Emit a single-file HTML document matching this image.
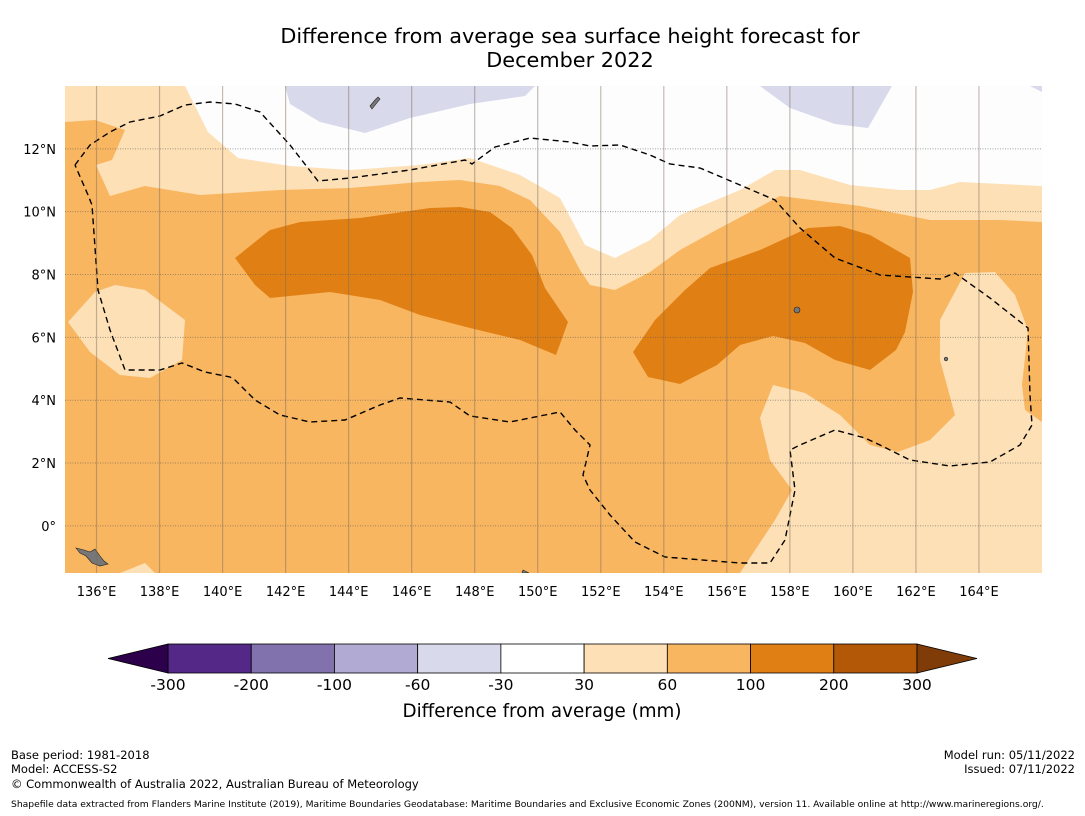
<!DOCTYPE html>
<html><head><meta charset="utf-8">
<style>
body{margin:0;background:#fff;font-family:"DejaVu Sans","Liberation Sans",sans-serif;}
#wrap{position:relative;width:1085px;height:816px;overflow:hidden;background:#fff}
.t{position:absolute;white-space:nowrap;color:#000}
</style></head><body>
<div id="wrap">
<div class="t" style="left:0;width:1140px;top:24px;text-align:center;font-size:20.8px;line-height:24px">Difference from average sea surface height forecast for<br>December 2022</div>
<svg id="svg" width="1085" height="816" style="position:absolute;left:0;top:0">
<defs><clipPath id="clip"><rect x="65" y="86" width="977" height="487"/></clipPath></defs>
<g clip-path="url(#clip)">
<rect x="65" y="86" width="977" height="487" fill="#fdfdfe"/>
<path fill="#d8d9ea" d="M285,86 L535,86 L525,96 L470,104 L410,118 L365,133 L320,122 L290,104 Z"/>
<path fill="#d8d9ea" d="M760,86 L892,86 L868,128 L835,124 L790,108 Z"/>
<path fill="#d8d9ea" d="M1030,86 L1042,86 L1042,92 Z"/>
<path fill="#fde0b6" d="M65,86 L185,86 L208,132 L238,158 L290,166 L350,170 L420,165 L470,158 L520,175 L560,198 L585,245 L615,258 L650,240 L680,215 L740,190 L775,170 L800,170 L850,185 L900,190 L930,190 L960,182 L1042,186 L1042,573 L65,573 Z"/>
<path fill="#f9b661" d="M65,122 L95,120 L125,130 L112,160 L96,165 L110,196 L145,186 L200,195 L280,190 L350,188 L420,182 L460,180 L500,186 L530,200 L560,232 L580,270 L590,285 L615,290 L650,272 L680,250 L720,228 L780,196 L860,206 L930,220 L1000,220 L1042,222 L1042,573 L65,573 Z"/>
<path fill="#fde0b6" d="M68,322 L95,292 L115,285 L145,290 L185,320 L182,360 L150,378 L120,375 L90,352 Z"/>
<path fill="#fde0b6" d="M1042,422 L1025,410 L1022,385 L1028,330 L1015,295 L995,272 L965,273 L940,320 L940,360 L955,415 L930,440 L898,452 L870,445 L840,415 L805,393 L773,385 L760,418 L770,460 L792,490 L775,520 L740,573 L1042,573 Z"/>
<path fill="#fde0b6" d="M120,573 L145,563 L155,573 Z"/>
<path fill="#e08014" d="M235,258 L270,230 L300,222 L360,218 L430,208 L460,207 L490,212 L512,228 L532,255 L545,288 L568,322 L556,355 L520,340 L470,328 L420,315 L380,300 L330,292 L270,298 L255,285 Z"/>
<path fill="#e08014" d="M633,352 L655,320 L685,290 L710,268 L760,250 L808,228 L840,226 L870,235 L910,258 L913,292 L905,332 L896,350 L870,370 L835,360 L805,343 L773,336 L740,345 L717,365 L680,384 L648,377 Z"/>
<path fill="none" stroke="#000" stroke-width="1.4" stroke-dasharray="6,4" d="M75,165 L90,145 L110,132 L130,122 L160,116 L185,105 L210,102 L235,104 L260,112 L290,145 L318,181 L350,178 L410,170 L465,160 L472,164 L495,147 L530,138 L570,142 L590,146 L620,145 L650,155 L670,164 L700,168 L740,185 L775,200 L800,228 L835,258 L880,275 L940,279 L955,273 L990,298 L1028,328 L1030,395 L1032,425 L1020,445 L990,462 L950,466 L910,460 L880,445 L865,438 L835,430 L800,445 L790,450 L795,490 L785,540 L770,563 L740,563 L665,557 L635,542 L610,515 L590,490 L583,475 L590,445 L575,430 L560,412 L545,415 L510,422 L470,416 L450,402 L400,398 L380,405 L345,420 L310,422 L280,415 L255,400 L235,380 L230,377 L205,372 L182,363 L160,370 L125,370 L110,330 L98,290 L92,205 L88,195 L75,165"/>
<path fill="#777" stroke="#222" stroke-width="0.6" d="M370,106 L375,100 L378,97 L380,99 L376,104 L372,109 Z"/>
<path fill="#777" stroke="#222" stroke-width="0.6" d="M76,548 L84,550 L90,552 L95,549 L100,556 L104,561 L108,564 L100,566 L92,563 L86,556 L80,553 Z"/>
<circle cx="797" cy="310" r="3" fill="#777" stroke="#222" stroke-width="0.6"/>
<circle cx="946" cy="359" r="1.8" fill="#777" stroke="#222" stroke-width="0.6"/>
<path fill="#777" stroke="#222" stroke-width="0.6" d="M523,570 L527,572 L529,573 L522,573 Z"/>
<g id="grid"></g>
</g>
<g id="axes"></g>
<g id="cbar"></g>
</svg>
<div class="t" style="left:342px;width:400px;text-align:center;top:701px;font-size:18.3px">Difference from average (mm)</div>
<div class="t" style="left:11px;top:748px;font-size:11.5px">Base period: 1981-2018</div>
<div class="t" style="left:11px;top:762px;font-size:11.5px">Model: ACCESS-S2</div>
<div class="t" style="left:11px;top:777px;font-size:11.5px">© Commonwealth of Australia 2022, Australian Bureau of Meteorology</div>
<div class="t" style="right:10px;top:748px;font-size:11.5px;text-align:right">Model run: 05/11/2022<br>Issued: 07/11/2022</div>
<div class="t" style="left:11px;top:799px;font-size:9.2px">Shapefile data extracted from Flanders Marine Institute (2019), Maritime Boundaries Geodatabase: Maritime Boundaries and Exclusive Economic Zones (200NM), version 11. Available online at http://www.marineregions.org/.</div>
</div>
<script>
const lonTicks=[136,138,140,142,144,146,148,150,152,154,156,158,160,162,164];
const latTicks=[0,2,4,6,8,10,12];
const cbarLevels=["-300","-200","-100","-60","-30","30","60","100","200","300"];
const cbarColors=["#542886","#8172ad","#b1aad2","#d8d9ea","#ffffff","#fde0b6","#f9b661","#e08014","#b35807"];
const cbarEnds=["#2d004b","#7f3b08"];
const NS="http://www.w3.org/2000/svg";
const FF="DejaVu Sans, Liberation Sans, sans-serif";
const LON0=135,LON1=166,LAT0=-1.5,LAT1=14,X0=65,X1=1042,Y0=86,Y1=573;
function xs(l){return X0+(l-LON0)/(LON1-LON0)*(X1-X0);}
function ys(l){return Y1-(l-LAT0)/(LAT1-LAT0)*(Y1-Y0);}
function mk(t,a,p){const e=document.createElementNS(NS,t);for(const k in a)e.setAttribute(k,a[k]);p.appendChild(e);return e;}
const grid=document.getElementById('grid'),axes=document.getElementById('axes'),cb=document.getElementById('cbar');
lonTicks.forEach(l=>{
 const ln=mk('line',{x1:xs(l),x2:xs(l),y1:Y0,y2:Y1,stroke:'#7a6a5a','stroke-opacity':'0.45','stroke-width':1.2},grid);
 
 
 const t=mk('text',{x:xs(l),y:596,'text-anchor':'middle','font-size':13,'font-family':FF},axes);
 t.textContent=l+'°E';
 
 
});
latTicks.forEach(l=>{
 const ln=mk('line',{x1:X0,x2:X1,y1:ys(l),y2:ys(l),stroke:'#555','stroke-opacity':'0.55','stroke-width':1,'stroke-dasharray':'1,1.5'},grid);
 
 
 const t=mk('text',{x:56,y:ys(l)+5,'text-anchor':'end','font-size':13,'font-family':FF},axes);
 t.textContent=l===0?'0°':l+'°N';
 
 
});
const CB0=168,CB1=917,CBY=644,CBH=29,n=cbarColors.length,w=(CB1-CB0)/n;
cbarColors.forEach((c,i)=>{
 const r=mk('rect',{x:CB0+i*w,y:CBY,width:w,height:CBH,fill:c,stroke:'#000','stroke-width':0.8},cb);
 
 
});
const le=mk('polygon',{points:`${CB0},${CBY} ${CB0-60},${CBY+CBH/2} ${CB0},${CBY+CBH}`,fill:cbarEnds[0],stroke:'#000','stroke-width':0.8},cb);


const re=mk('polygon',{points:`${CB1},${CBY} ${CB1+60},${CBY+CBH/2} ${CB1},${CBY+CBH}`,fill:cbarEnds[1],stroke:'#000','stroke-width':0.8},cb);


cbarLevels.forEach((v,i)=>{
 const t=mk('text',{x:CB0+i*w,y:690,'text-anchor':'middle','font-size':15.5,'font-family':FF},cb);
 t.textContent=v;
 
 
});
</script>
</body></html>
